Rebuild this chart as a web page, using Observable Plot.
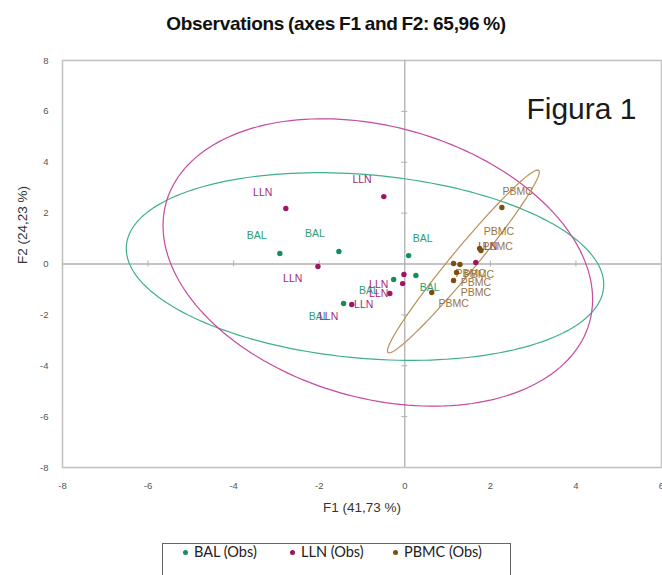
<!DOCTYPE html>
<html>
<head>
<meta charset="utf-8">
<script src="https://cdn.jsdelivr.net/npm/d3@7"></script>
<script src="https://cdn.jsdelivr.net/npm/@observablehq/plot@0.6"></script>
<style>
  body { margin: 0; background: #fff; }
  #wrap { width: 662px; height: 575px; overflow: hidden; position: relative; font-family: Arial, "Liberation Sans", sans-serif; }
  #title { height: 40px; box-sizing: border-box; padding-top: 13px; padding-left: 10px; text-align: center; font-weight: bold; font-size: 19px; letter-spacing: -0.3px; word-spacing: -1px; color: #111; white-space: nowrap; }
  #chart svg { display: block; }
  #legend { position: relative; height: 45px; }
  #legend .box { position: absolute; left: 162px; top: 13px; width: 349px; height: 40px; border: 1px solid #666; border-bottom: none; box-sizing: border-box; }
  #legend .item { position: absolute; top: 8px; font-family: Lato, "Open Sans", sans-serif; font-size: 14.5px; color: #222; white-space: nowrap; }
  #legend .dot { display: inline-block; width: 5px; height: 5px; border-radius: 50%; margin-right: 6px; vertical-align: middle; position: relative; top: -1px; }
</style>
</head>
<body>
<div id="wrap">
  <div id="title">Observations (axes F1 and F2: 65,96 %)</div>
  <div id="chart"></div>
  <div id="legend"></div>
</div>
<script>
// ---- Data ----
const groups = ["BAL", "LLN", "PBMC"];
const legendLabels = ["BAL (Obs)", "LLN (Obs)", "PBMC (Obs)"];
const xTicks = [-8, -6, -4, -2, 0, 2, 4, 6];
const yTicks = [-8, -6, -4, -2, 0, 2, 4, 6, 8];

// observations: x = F1, y = F2, lx/ly = label location (data units)
const balObs = [
  {x: -2.92, y: 0.41, lx: -3.46, ly: 1.12},
  {x: -1.54, y: 0.49, lx: -2.10, ly: 1.20},
  {x: 0.09, y: 0.33, lx: 0.42, ly: 1.00},
  {x: -0.26, y: -0.61, lx: -0.84, ly: -1.04},
  {x: 0.26, y: -0.45, lx: 0.58, ly: -0.92},
  {x: -1.43, y: -1.55, lx: -2.01, ly: -2.06}
];
const llnObs = [
  {x: -2.78, y: 2.18, lx: -3.32, ly: 2.81},
  {x: -0.49, y: 2.65, lx: -1.00, ly: 3.32},
  {x: -2.03, y: -0.10, lx: -2.62, ly: -0.57},
  {x: -0.02, y: -0.41, lx: -0.61, ly: -0.81},
  {x: -0.05, y: -0.77, lx: -0.61, ly: -1.16},
  {x: -0.35, y: -1.16, lx: -0.96, ly: -1.59},
  {x: -1.24, y: -1.59, lx: -1.78, ly: -2.06},
  {x: 1.66, y: 0.06, lx: 1.94, ly: 0.69}
];
const pbmcObs = [
  {x: 2.27, y: 2.22, lx: 2.64, ly: 2.85},
  {x: 1.75, y: 0.61, lx: 2.20, ly: 1.28},
  {x: 1.78, y: 0.53, lx: 2.17, ly: 0.69},
  {x: 1.14, y: 0.02, lx: 1.54, ly: -0.37},
  {x: 1.29, y: -0.02, lx: 1.73, ly: -0.41},
  {x: 1.21, y: -0.33, lx: 1.66, ly: -0.73},
  {x: 1.14, y: -0.65, lx: 1.66, ly: -1.12},
  {x: 0.63, y: -1.12, lx: 1.14, ly: -1.55}
];

// confidence ellipses: centre + two conjugate half-axis vectors (data units)
const balEllipse  = {cx: -0.93, cy: -0.10, ux: 5.58, uy: -0.71, vx: 0.00, vy: 3.62};
const llnEllipse  = {cx: -0.63, cy: 0.06,  ux: 5.02, uy: -1.45, vx: 0.00, vy: 5.46};
const pbmcEllipse = {cx: 1.37,  cy: 0.10,  ux: 1.76, uy: 3.58,  vx: 0.22, vy: -0.31};

// ---- Styling ----
const dotColor   = {BAL: "#11905a", LLN: "#9b1466", PBMC: "#7d4e12"};
const labelColor = {BAL: "#2e9e72", LLN: "#a3297a", PBMC: "#9a7442"};
const ellColor   = {BAL: "#3fb088", LLN: "#c54aa0", PBMC: "#b8905a"};

const obs = [
  ...balObs.map(d => ({...d, g: "BAL"})),
  ...llnObs.map(d => ({...d, g: "LLN"})),
  ...pbmcObs.map(d => ({...d, g: "PBMC"}))
];

function ellipsePath(e, g) {
  return d3.range(0, 361, 2).map(deg => {
    const t = deg * Math.PI / 180;
    return {g, x: e.cx + e.ux * Math.cos(t) + e.vx * Math.sin(t),
               y: e.cy + e.uy * Math.cos(t) + e.vy * Math.sin(t)};
  });
}
const ellipsePts = [
  ...ellipsePath(balEllipse, "BAL"),
  ...ellipsePath(llnEllipse, "LLN"),
  ...ellipsePath(pbmcEllipse, "PBMC")
];

const fmt = d => String(d);

const chart = Plot.plot({
  width: 662,
  height: 490,
  marginLeft: 62,
  marginRight: 1,
  marginTop: 20,
  marginBottom: 63,
  style: {background: "#fff", fontFamily: "Arial, 'Liberation Sans', sans-serif"},
  x: {domain: [-8, 6]},
  y: {domain: [-8, 8]},
  marks: [
    Plot.frame({stroke: "#c4c4c4", strokeWidth: 1.6}),
    Plot.ruleX([0], {stroke: "#b0b0b0", strokeWidth: 1.3}),
    Plot.ruleY([0], {stroke: "#b0b0b0", strokeWidth: 1.3}),
    // small ticks on the zero axes
    Plot.ruleY(yTicks.filter(v => Math.abs(v) < 8 && v !== 0), {y: d => d, x1: -0.07, x2: 0.07, stroke: "#b0b0b0"}),
    Plot.ruleX(xTicks.filter(v => v > -8 && v < 6 && v !== 0), {x: d => d, y1: -0.12, y2: 0.12, stroke: "#b0b0b0"}),
    Plot.axisX(xTicks, {tickSize: 0, tickPadding: 15, tickFormat: fmt, fontSize: 9.5, fill: "#555", label: null}),
    Plot.axisY(yTicks, {tickSize: 0, tickPadding: 14, tickFormat: fmt, fontSize: 9.5, fill: "#555", label: null}),
    Plot.text(["F1 (41,73 %)"], {frameAnchor: "bottom", dy: 44, fontSize: 13.5, fill: "#333"}),
    Plot.text(["F2 (24,23 %)"], {frameAnchor: "left", dx: -40, rotate: -90, fontSize: 13.5, fill: "#333"}),
    Plot.line(ellipsePts, {x: "x", y: "y", z: "g", stroke: d => ellColor[d.g], strokeWidth: 1.2, curve: "linear-closed"}),
    Plot.text(obs, {x: "lx", y: "ly", text: "g", fill: d => labelColor[d.g], fontSize: 10.5, style: "letter-spacing:0.6px"}),
    Plot.dot(obs, {x: "x", y: "y", r: 2.7, fill: d => dotColor[d.g], stroke: "none"}),
    Plot.text(["Figura 1"], {frameAnchor: "top-right", dx: -25, dy: 37, fontSize: 30, fill: "#1a1a1a", fontFamily: "Arial, 'Liberation Sans', sans-serif"})
  ]
});
document.getElementById("chart").appendChild(chart);

// ---- Legend ----
const legend = document.getElementById("legend");
const box = document.createElement("div");
box.className = "box";
legend.appendChild(box);
const itemLeft = [183, 290, 393];
groups.forEach((g, i) => {
  const it = document.createElement("div");
  it.className = "item";
  it.style.left = itemLeft[i] + "px";
  it.style.top = "13px";
  const dot = document.createElement("span");
  dot.className = "dot";
  dot.style.background = dotColor[g];
  it.appendChild(dot);
  it.appendChild(document.createTextNode(legendLabels[i]));
  legend.appendChild(it);
});
</script>
</body>
</html>
